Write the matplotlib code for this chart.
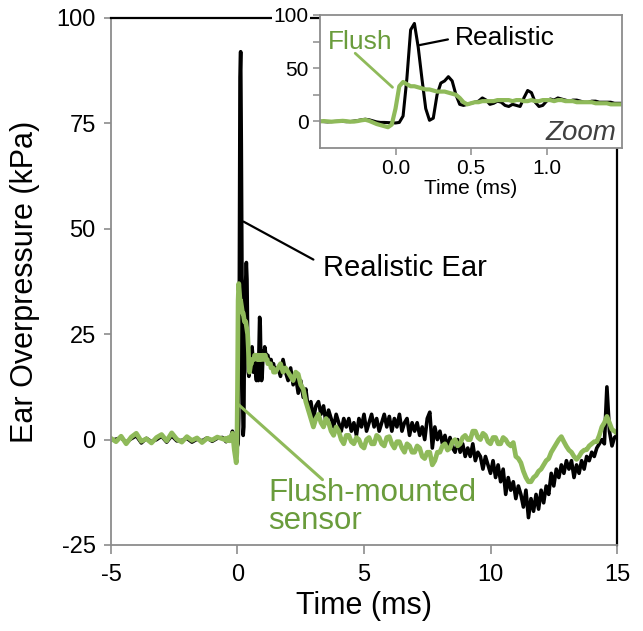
import numpy as np
import matplotlib.pyplot as plt

plt.rcParams['font.family'] = ['Liberation Sans', 'DejaVu Sans']
plt.rcParams['axes.unicode_minus'] = False

black_col = '#000000'
green_col = '#8fba5a'
green_txt = '#6a9c3c'
grey = '#8c8c8c'

# before the blast (-5 .. -0.6 ms, every 0.2 ms)
t_pre = np.linspace(-5.0, -0.6, 23)
ear_pre = [-0.2, 0.1, 0.4, -0.6, 0.2, 0.9, -0.8, 0.3, -0.5, 0.0, 0.8, -0.6,
           0.9, -0.3, -0.2, 0.3, -0.6, 0.1, -0.3, 0.4, -0.4, 0.3, 0.5]
flush_pre = [0.3, -0.5, 0.8, -1.0, 0.6, 1.5, -0.4, 0.2, -0.8, 0.5, 1.2, -0.3,
             1.6, 0.1, -0.6, 0.7, -0.2, 0.4, -0.7, 0.3, -0.1, 0.6, 0.2]

# arrival of the wave (-0.5 .. 1.5 ms, every 0.025 ms)
t_peak = np.linspace(-0.5, 1.5, 81)
ear_peak = [0.0, -0.3, -0.5, -0.3, 0.0, 0.2, 0.0, -0.3, -0.2, 0.3,
            0.8, 1.5, 2.0, 1.5, 0.5, -0.5, -1.0, -1.0, -1.2, -1.5,
            -1.5, -1.0, 5, 40, 86, 92, 70, 40, 12, 1,
            3, 25, 36, 38, 42, 38, 25, 16, 15, 16,
            17, 18, 19, 22, 20, 16, 17, 19, 18, 15,
            14, 16, 15, 14, 22, 29, 27, 18, 14, 15,
            19, 21, 20, 22, 21, 20, 19, 20, 20, 19,
            18, 18, 19, 19, 18, 18, 18, 18, 17, 17,
            17]
flush_peak = [0.0, 0.3, 0.0, -0.3, 0.0, 0.3, 0.5, 0.2, -0.3, -0.2,
              0.3, 1.0, 1.5, 0.5, -1.0, -2.5, -3.5, -4.5, -5.5, -3.0,
              12, 33, 37, 35, 33, 33, 32, 31, 30, 30,
              29, 28, 28, 28, 27, 26, 25, 22, 18, 16,
              17, 18, 18, 19, 19, 19, 19, 20, 20, 20,
              20, 19, 20, 20, 19, 19, 20, 19, 19, 20,
              20, 20, 19, 20, 20, 19, 19, 19, 18, 18,
              18, 18, 18, 17, 17, 17, 17, 16, 16, 16,
              16]

# decay (1.6 .. 15 ms, every 0.1 ms)
t_tail = np.linspace(1.6, 15.0, 135)
ear_tail = [17, 15, 19, 16, 14, 17, 13, 15, 11, 14,
            10, 12, 7, 9, 5, 8, 9, 6, 8, 4,
            7, 5, 3, 6, 4, 2, 5, 3, 5, 2,
            4, 1, 5, 3, 6, 2, 4, 6, 3, 5,
            2, 4, 6, 3, 5.5, 2, 5, 3, 6, 2,
            4, 5, 1, 4, 2, 4, 1, 3, 0, 5,
            6.5, -2, 3, 0, 2, -1, 1, -2, 0.5, -2,
            -3, 0, -3, -1, -4, -2, -4, -1, -5, -3,
            -4, -7, -4, -6, -8, -5, -9, -6, -10, -7,
            -13, -9, -12, -10, -14, -11, -13, -16, -12, -18.5,
            -14, -17, -13, -16.5, -12, -15, -11, -13, -8, -11,
            -7, -9, -6, -8, -5, -7, -5, -9, -6, -8,
            -5, -7, -4, -5, -3, -4, -2, -1, 0, -1,
            12.5, 2, -1.5, 0.5, 1]
flush_tail = [17, 18, 16, 17, 16, 15, 14, 16, 15.5, 13,
              12, 9, 7, 5, 3, 5, 6, 4, 3, 5,
              4, 2, 1, 3, 2, 0, -1, 1, 1, -0.5,
              -1, 0.5, 0, -1.5, -2, 0, 0.5, -1, -1, 1,
              0.5, -1, -1.5, 0.5, 0.7, -1, -2, -0.5, -0.5, -2,
              -3, -1, -1.5, -3, -3, -1.5, -2, -4, -4.5, -3,
              -3, -6, -5, -3, -3, -1.5, -1, -2.5, -2, -0.5,
              0, -1.5, -1, 0.5, 1, 0, 0, 2, 2, 0.5,
              0, 1.5, 1, -0.5, -1, 0.5, 0.5, -1, -1, 0.5,
              0, -1, -1.5, -0.7, -4, -4.5, -5.5, -7.5, -9, -10,
              -10, -9, -8.5, -7.5, -7, -6, -5, -4.5, -3, -2,
              -1, 0, 0.7, -0.5, -1.6, -2.5, -3, -4, -4.7, -4,
              -3, -2.5, -2.4, -1.5, -1, -0.5, -0.5, 1, 3, 4,
              5.5, 4, 2.4, 2, 1.5]

t = np.concatenate([t_pre, t_peak, t_tail])
ear = np.concatenate([ear_pre, ear_peak, ear_tail])
flush = np.concatenate([flush_pre, flush_peak, flush_tail])

fig = plt.figure(figsize=(6.43, 6.31), dpi=100)
ax = fig.add_axes([0.1726, 0.1363, 0.787, 0.8352])

ax.plot(t, ear, color=black_col, lw=2.6, solid_joinstyle='round')
ax.plot(t, flush, color=green_col, lw=3.4, solid_joinstyle='round')

ax.set_xlim(-5, 15)
ax.set_ylim(-25, 100)
ax.set_xticks([-5, 0, 5, 10, 15])
ax.set_yticks([-25, 0, 25, 50, 75, 100])
ax.tick_params(direction='out', width=1.2, color=grey, labelsize=17)
ax.tick_params(axis='x', length=6.5, pad=7)
ax.tick_params(axis='y', length=5, pad=6)
for s in ['left', 'bottom']:
    ax.spines[s].set_color(grey)
    ax.spines[s].set_linewidth(1.3)
for s in ['top', 'right']:
    ax.spines[s].set_color('black')
    ax.spines[s].set_linewidth(1.6)
ax.set_xlabel('Time (ms)', fontsize=22, labelpad=4)
ax.set_ylabel('Ear Overpressure (kPa)', fontsize=22, labelpad=12)

# labels with pointer lines
ax.annotate('', xy=(0.24, 51.7), xytext=(3.0, 42.7),
            arrowprops=dict(arrowstyle='-', color='black', lw=1.6,
                            shrinkA=0, shrinkB=0))
ax.text(3.36, 40.8, 'Realistic Ear', fontsize=21, va='center', ha='left')
ax.annotate('', xy=(0.04, 8.3), xytext=(3.36, -9.5),
            arrowprops=dict(arrowstyle='-', color=green_col, lw=2.2,
                            shrinkA=0, shrinkB=0))
ax.text(1.23, -9.0, 'Flush-mounted\nsensor', fontsize=22.5, va='top',
        ha='left', color=green_txt, linespacing=0.95)

# zoomed view
ax2 = fig.add_axes([0.4977, 0.7655, 0.4697, 0.2108])
ax2.plot(t, ear, color=black_col, lw=2.2, solid_joinstyle='round')
ax2.plot(t, flush, color=green_col, lw=3.0, solid_joinstyle='round')
ax2.set_xlim(-0.5, 1.5)
ax2.set_ylim(-25, 100)
ax2.set_xticks([0.0, 0.5, 1.0])
ax2.set_xticklabels(['0.0', '0.5', '1.0'])
ax2.set_yticks([0, 50, 100])
ax2.set_yticks([25, 75], minor=True)
ax2.tick_params(which='both', direction='out', length=5, width=1.1,
                color=grey, labelsize=15, pad=3)
for s in ax2.spines.values():
    s.set_color(grey)
    s.set_linewidth(1.3)
for lab in ax2.get_yticklabels():
    lab.set_bbox(dict(facecolor='white', edgecolor='none', pad=1))
ax2.set_xlabel('Time (ms)', fontsize=15, labelpad=1)

ax2.annotate('', xy=(-0.02, 32), xytext=(-0.267, 64),
             arrowprops=dict(arrowstyle='-', color=green_col, lw=2.0,
                             shrinkA=0, shrinkB=0))
ax2.text(-0.447, 74.5, 'Flush', fontsize=19, va='center', color=green_txt)
ax2.annotate('', xy=(0.16, 71.7), xytext=(0.347, 77),
             arrowprops=dict(arrowstyle='-', color='black', lw=1.6,
                             shrinkA=0, shrinkB=0))
ax2.text(0.393, 78, 'Realistic', fontsize=19, va='center')
ax2.text(1.46, -11.3, 'Zoom', fontsize=20, style='italic', color='#404040',
         ha='right', va='center')

fig.savefig('out.png', dpi=100)
